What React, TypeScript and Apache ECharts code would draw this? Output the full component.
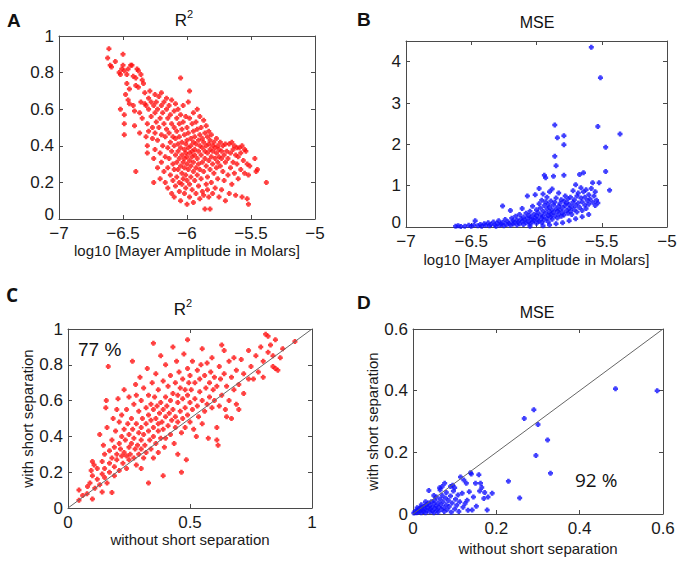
import React, { useEffect, useRef } from "react";
import * as echarts from "echarts";

// Panel A: log10 Mayer amplitude vs R^2
const pointsA: number[][] = [
  [-6.61,0.93],[-6.62,0.88],[-6.60,0.84],[-6.59,0.83],[-6.56,0.86],
  [-6.53,0.80],[-6.52,0.79],[-6.51,0.82],[-6.52,0.60],[-6.50,0.90],[-6.50,0.84],[-6.49,0.81],
  [-6.49,0.57],[-6.49,0.52],[-6.49,0.46],[-6.48,0.68],[-6.47,0.79],[-6.47,0.74],[-6.46,0.82],[-6.46,0.65],[-6.45,0.63],[-6.45,0.71],
  [-6.44,0.84],[-6.43,0.84],[-6.42,0.78],[-6.42,0.62],[-6.41,0.59],[-6.41,0.51],[-6.40,0.26],[-6.40,0.73],[-6.40,0.77],
  [-6.39,0.82],[-6.38,0.81],[-6.38,0.72],[-6.37,0.58],[-6.37,0.47],[-6.36,0.79],[-6.36,0.64],[-6.35,0.76],[-6.35,0.55],
  [-6.34,0.74],[-6.33,0.63],[-6.33,0.69],[-6.32,0.62],[-6.32,0.45],[-6.31,0.52],[-6.31,0.40],[-6.30,0.66],[-6.30,0.60],[-6.30,0.48],[-6.31,0.36],
  [-6.29,0.70],[-6.28,0.64],[-6.28,0.56],[-6.27,0.50],[-6.27,0.44],[-6.26,0.62],[-6.26,0.33],[-6.26,0.20],[-6.25,0.68],[-6.25,0.58],[-6.25,0.47],[-6.25,0.38],
  [-6.24,0.64],[-6.24,0.53],[-6.23,0.60],[-6.23,0.43],[-6.23,0.28],[-6.22,0.67],[-6.22,0.50],[-6.21,0.55],[-6.21,0.36],[-6.21,0.22],[-6.20,0.62],[-6.20,0.46],[-6.20,0.31],[-6.20,0.69],
  [-6.19,0.58],[-6.19,0.40],[-6.18,0.52],[-6.18,0.26],[-6.18,0.64],[-6.17,0.45],[-6.17,0.34],[-6.17,0.20],[-6.16,0.60],[-6.16,0.49],[-6.16,0.66],[-6.15,0.55],[-6.15,0.39],[-6.15,0.28],[-6.15,0.17],
  [-6.14,0.62],[-6.14,0.47],[-6.14,0.33],[-6.13,0.57],[-6.13,0.42],[-6.13,0.24],[-6.12,0.52],[-6.12,0.37],[-6.12,0.14],[-6.12,0.65],[-6.11,0.45],[-6.11,0.30],[-6.11,0.21],[-6.10,0.59],[-6.10,0.50],[-6.10,0.40],[-6.10,0.27],[-6.10,0.12],
  [-6.09,0.63],[-6.09,0.44],[-6.09,0.35],[-6.09,0.18],[-6.08,0.55],[-6.08,0.48],[-6.08,0.31],[-6.08,0.23],[-6.07,0.60],[-6.07,0.41],[-6.07,0.37],[-6.07,0.27],[-6.06,0.52],[-6.06,0.45],[-6.06,0.33],[-6.06,0.20],[-6.06,0.15],[-6.05,0.77],[-6.05,0.57],[-6.05,0.39],[-6.05,0.29],[-6.05,0.10],
  [-6.04,0.49],[-6.04,0.42],[-6.04,0.35],[-6.04,0.25],[-6.04,0.19],[-6.03,0.62],[-6.03,0.53],[-6.03,0.31],[-6.03,0.22],[-6.02,0.46],[-6.02,0.38],[-6.02,0.33],[-6.02,0.28],[-6.02,0.14],[-6.01,0.56],[-6.01,0.41],[-6.01,0.36],[-6.01,0.24],[-6.01,0.17],[-6.00,0.50],[-6.00,0.43],[-6.00,0.34],[-6.00,0.30],[-6.00,0.21],[-6.00,0.08],
  [-5.99,0.64],[-5.99,0.47],[-5.99,0.39],[-5.99,0.27],[-5.98,0.70],[-5.98,0.55],[-5.98,0.36],[-5.98,0.32],[-5.98,0.19],[-5.98,0.12],[-5.97,0.44],[-5.97,0.40],[-5.97,0.29],[-5.97,0.23],[-5.96,0.52],[-5.96,0.37],[-5.96,0.34],[-5.96,0.16],[-5.95,0.58],[-5.95,0.48],[-5.95,0.42],[-5.95,0.31],[-5.95,0.26],[-5.95,0.09],
  [-5.94,0.45],[-5.94,0.38],[-5.94,0.35],[-5.94,0.21],[-5.93,0.53],[-5.93,0.41],[-5.93,0.28],[-5.93,0.14],[-5.92,0.60],[-5.92,0.49],[-5.92,0.33],[-5.92,0.24],[-5.91,0.43],[-5.91,0.37],[-5.91,0.30],[-5.91,0.18],[-5.90,0.56],[-5.90,0.46],[-5.90,0.40],[-5.90,0.27],[-5.90,0.11],
  [-5.89,0.50],[-5.89,0.35],[-5.89,0.22],[-5.88,0.44],[-5.88,0.39],[-5.88,0.31],[-5.88,0.15],[-5.87,0.54],[-5.87,0.42],[-5.87,0.26],[-5.87,0.13],[-5.86,0.47],[-5.86,0.37],[-5.86,0.33],[-5.86,0.055],[-5.85,0.51],[-5.85,0.40],[-5.85,0.29],[-5.85,0.19],
  [-5.84,0.45],[-5.84,0.36],[-5.84,0.23],[-5.84,0.16],[-5.83,0.48],[-5.83,0.41],[-5.83,0.32],[-5.83,0.12],[-5.82,0.43],[-5.82,0.38],[-5.82,0.27],[-5.82,0.055],[-5.81,0.46],[-5.81,0.34],[-5.81,0.20],[-5.80,0.40],[-5.80,0.37],[-5.80,0.30],[-5.80,0.14],
  [-5.79,0.42],[-5.79,0.25],[-5.78,0.39],[-5.78,0.33],[-5.78,0.17],[-5.77,0.44],[-5.77,0.36],[-5.77,0.28],[-5.76,0.40],[-5.76,0.31],[-5.76,0.22],[-5.75,0.38],[-5.75,0.34],[-5.75,0.12],
  [-5.74,0.42],[-5.74,0.29],[-5.73,0.37],[-5.73,0.33],[-5.73,0.16],[-5.72,0.40],[-5.72,0.26],[-5.71,0.35],[-5.71,0.21],[-5.70,0.41],[-5.70,0.31],[-5.70,0.10],
  [-5.69,0.37],[-5.68,0.33],[-5.68,0.24],[-5.67,0.41],[-5.67,0.14],[-5.66,0.36],[-5.66,0.28],[-5.65,0.42],[-5.65,0.19],[-5.64,0.38],[-5.64,0.31],[-5.63,0.40],[-5.63,0.25],[-5.62,0.35],[-5.62,0.13],[-5.61,0.39],[-5.61,0.30],[-5.60,0.22],[-5.60,0.34],
  [-5.59,0.39],[-5.58,0.36],[-5.58,0.27],[-5.57,0.12],[-5.57,0.40],[-5.56,0.32],[-5.55,0.38],[-5.55,0.25],[-5.54,0.37],[-5.53,0.30],[-5.53,0.11],[-5.52,0.08],[-5.52,0.24],[-5.51,0.29],
  [-5.47,0.33],[-5.46,0.26],[-5.45,0.27],[-5.38,0.20]
];

// Panel B: log10 Mayer amplitude vs MSE
const pointsB: number[][] = [
  [-6.62,0.02],[-6.60,0.03],[-6.58,0.01],[-6.55,0.02],[-6.52,0.04],[-6.50,0.02],[-6.48,0.05],[-6.47,0.15],[-6.45,0.03],[-6.43,0.06],[-6.42,0.02],[-6.40,0.08],[-6.39,0.04],[-6.37,0.10],[-6.36,0.03],[-6.35,0.06],[-6.33,0.12],[-6.32,0.05],[-6.31,0.02],[-6.30,0.09],
  [-6.29,0.15],[-6.28,0.04],[-6.27,0.07],[-6.26,0.51],[-6.26,0.11],[-6.25,0.03],[-6.24,0.18],[-6.23,0.06],[-6.22,0.13],[-6.21,0.09],[-6.20,0.40],[-6.20,0.04],[-6.19,0.21],[-6.18,0.15],[-6.18,0.07],[-6.17,0.11],[-6.16,0.26],[-6.15,0.05],[-6.15,0.17],[-6.14,0.12],
  [-6.13,0.30],[-6.13,0.08],[-6.12,0.20],[-6.11,0.14],[-6.11,0.45],[-6.10,0.06],[-6.10,0.24],[-6.09,0.17],[-6.08,0.33],[-6.08,0.10],[-6.07,0.21],[-6.07,0.75],[-6.06,0.13],[-6.06,0.28],[-6.05,0.38],[-6.05,0.07],[-6.05,0.02],[-6.04,0.19],[-6.04,0.25],[-6.03,0.50],
  [-6.03,0.12],[-6.02,0.31],[-6.02,0.16],[-6.01,0.78],[-6.01,0.22],[-6.00,0.42],[-6.00,0.09],[-6.00,0.27],[-5.99,0.35],[-5.99,0.18],[-5.98,0.93],[-5.98,0.56],[-5.98,0.14],[-5.97,0.29],[-5.97,0.46],[-5.96,0.22],[-5.96,0.65],[-5.96,0.11],[-5.95,0.38],[-5.95,0.80],
  [-5.95,0.26],[-5.95,0.03],[-5.94,1.25],[-5.94,0.52],[-5.94,0.17],[-5.93,1.19],[-5.93,0.33],[-5.93,0.61],[-5.92,0.44],[-5.92,0.21],[-5.92,0.72],[-5.91,0.28],[-5.91,0.55],[-5.91,0.13],[-5.90,0.37],[-5.90,0.85],[-5.90,0.48],[-5.90,0.05],[-5.89,0.24],[-5.89,0.63],
  [-5.89,0.31],[-5.88,0.41],[-5.88,0.19],[-5.88,0.92],[-5.87,0.53],[-5.87,1.23],[-5.87,0.35],[-5.86,2.47],[-5.86,1.71],[-5.86,0.27],[-5.86,0.60],[-5.85,1.48],[-5.85,0.44],[-5.85,0.70],[-5.85,0.08],[-5.84,2.16],[-5.84,0.38],[-5.84,0.22],[-5.83,0.50],[-5.83,0.82],
  [-5.83,0.31],[-5.82,0.57],[-5.82,0.41],[-5.81,0.26],[-5.81,0.66],[-5.80,0.47],[-5.80,0.35],[-5.80,0.10],[-5.79,2.21],[-5.79,1.99],[-5.79,1.25],[-5.79,0.62],[-5.79,0.29],[-5.78,0.52],[-5.78,0.75],[-5.77,0.40],[-5.77,0.58],[-5.76,0.33],[-5.76,0.68],[-5.75,0.45],
  [-5.75,0.55],[-5.75,0.15],[-5.74,0.38],[-5.74,0.72],[-5.73,0.49],[-5.73,0.30],[-5.72,0.60],[-5.72,0.88],[-5.71,0.42],[-5.71,0.66],[-5.70,1.02],[-5.70,0.52],[-5.70,0.20],[-5.69,0.75],[-5.69,0.36],[-5.68,0.58],[-5.68,0.82],[-5.67,1.27],[-5.67,0.47],[-5.66,0.70],
  [-5.66,0.95],[-5.65,0.40],[-5.65,0.61],[-5.65,0.25],[-5.64,1.31],[-5.64,0.85],[-5.63,0.53],[-5.63,0.72],[-5.62,0.45],[-5.62,0.90],[-5.61,0.64],[-5.60,0.78],[-5.60,0.55],[-5.60,0.30],[-5.59,0.68],[-5.58,4.35],[-5.58,0.93],[-5.57,1.07],[-5.57,0.60],[-5.56,0.75],
  [-5.55,0.52],[-5.55,0.85],[-5.54,0.65],[-5.53,2.43],[-5.53,0.58],[-5.52,1.07],[-5.51,3.61],[-5.47,1.93],[-5.47,1.34],[-5.44,0.89],[-5.36,2.25]
];

// Panel C: R^2 without vs with short separation
const pointsC: number[][] = [
  [0.045,0.043],[0.045,0.10],[0.06,0.07],[0.078,0.08],[0.08,0.12],[0.09,0.14],[0.10,0.05],[0.10,0.26],[0.107,0.24],[0.10,0.18],[0.095,0.21],
  [0.11,0.11],[0.12,0.16],[0.12,0.22],[0.13,0.41],[0.13,0.13],[0.14,0.19],[0.14,0.26],[0.14,0.09],[0.15,0.30],[0.15,0.17],[0.15,0.22],[0.145,0.35],
  [0.157,0.60],[0.155,0.56],[0.16,0.45],[0.16,0.14],[0.165,0.79],[0.17,0.25],[0.17,0.32],[0.17,0.20],[0.18,0.086],[0.18,0.38],[0.18,0.28],[0.185,0.50],[0.19,0.18],[0.19,0.23],[0.19,0.34],[0.195,0.43],[0.20,0.30],[0.20,0.27],[0.20,0.55],
  [0.205,0.61],[0.21,0.36],[0.21,0.21],[0.21,0.48],[0.215,0.33],[0.22,0.40],[0.22,0.29],[0.22,0.52],[0.225,0.25],[0.23,0.44],[0.23,0.31],[0.23,0.66],[0.235,0.38],[0.24,0.29],[0.24,0.55],[0.24,0.22],[0.245,0.47],[0.25,0.34],[0.25,0.41],[0.25,0.62],[0.25,0.27],
  [0.255,0.30],[0.26,0.50],[0.26,0.36],[0.264,0.82],[0.265,0.44],[0.27,0.28],[0.27,0.58],[0.27,0.39],[0.275,0.33],[0.277,0.69],[0.28,0.47],[0.28,0.24],[0.28,0.63],[0.285,0.35],[0.29,0.42],[0.29,0.30],[0.29,0.54],[0.295,0.73],[0.30,0.45],[0.30,0.38],[0.30,0.33],[0.30,0.60],[0.30,0.22],
  [0.305,0.50],[0.31,0.28],[0.31,0.67],[0.31,0.41],[0.315,0.35],[0.32,0.56],[0.32,0.47],[0.32,0.31],[0.325,0.78],[0.33,0.14],[0.33,0.43],[0.33,0.52],[0.33,0.63],[0.335,0.38],[0.34,0.49],[0.34,0.58],[0.34,0.33],[0.345,0.70],[0.35,0.92],[0.35,0.45],[0.35,0.55],[0.35,0.28],[0.35,0.40],
  [0.355,0.62],[0.36,0.50],[0.36,0.36],[0.36,0.75],[0.365,0.57],[0.37,0.47],[0.37,0.43],[0.37,0.66],[0.37,0.31],[0.375,0.53],[0.38,0.59],[0.38,0.39],[0.38,0.85],[0.385,0.48],[0.39,0.18],[0.39,0.55],[0.39,0.71],[0.39,0.44],[0.395,0.34],[0.40,0.62],[0.40,0.51],[0.40,0.80],[0.40,0.39],
  [0.405,0.57],[0.41,0.46],[0.41,0.68],[0.415,0.53],[0.42,0.74],[0.42,0.41],[0.42,0.60],[0.425,0.49],[0.43,0.90],[0.43,0.64],[0.43,0.55],[0.435,0.36],[0.44,0.70],[0.44,0.45],[0.44,0.51],[0.445,0.82],[0.45,0.59],[0.45,0.63],[0.45,0.48],[0.45,0.30],
  [0.455,0.76],[0.46,0.67],[0.46,0.54],[0.465,0.20],[0.465,0.42],[0.47,0.72],[0.47,0.61],[0.47,0.50],[0.475,0.86],[0.48,0.66],[0.48,0.56],[0.48,0.45],[0.485,0.27],[0.49,0.94],[0.49,0.78],[0.49,0.63],[0.49,0.52],[0.495,0.70],[0.50,0.59],[0.50,0.48],[0.50,0.74],
  [0.505,0.66],[0.51,0.55],[0.51,0.82],[0.515,0.44],[0.52,0.70],[0.52,0.61],[0.526,0.40],[0.53,0.77],[0.53,0.57],[0.535,0.51],[0.54,0.65],[0.54,0.72],[0.545,0.80],[0.55,0.89],[0.55,0.60],[0.55,0.47],
  [0.56,0.74],[0.56,0.54],[0.565,0.67],[0.57,0.81],[0.57,0.58],[0.575,0.39],[0.58,0.70],[0.58,0.62],[0.585,0.76],[0.59,0.84],[0.59,0.56],[0.595,0.66],[0.60,0.73],[0.60,0.60],
  [0.61,0.45],[0.61,0.38],[0.615,0.35],[0.61,0.68],[0.62,0.79],[0.62,0.57],[0.625,0.72],[0.63,0.91],[0.63,0.63],[0.64,0.88],[0.64,0.75],[0.645,0.55],[0.65,0.51],[0.65,0.68],
  [0.66,0.82],[0.66,0.60],[0.67,0.73],[0.67,0.50],[0.68,0.66],[0.68,0.84],[0.69,0.58],[0.69,0.77],[0.70,0.69],[0.70,0.55],
  [0.71,0.83],[0.72,0.64],[0.72,0.75],[0.74,0.88],[0.74,0.72],[0.75,0.79],[0.76,0.72],[0.77,0.85],[0.78,0.76],[0.79,0.90],[0.80,0.73],[0.80,0.82],
  [0.81,0.97],[0.82,0.96],[0.82,0.87],[0.83,0.91],[0.84,0.79],[0.84,0.85],[0.85,0.78],[0.85,0.94],[0.86,0.77],[0.87,0.84],[0.88,0.89],[0.93,0.93]
];

// Panel D: MSE without vs with short separation
const pointsD: number[][] = [
  [0.002,0.003],[0.005,0.008],[0.008,0.004],[0.01,0.012],[0.01,0.02],[0.012,0.006],[0.015,0.018],[0.017,0.010],[0.02,0.004],[0.02,0.022],[0.02,0.03],[0.022,0.014],[0.025,0.008],[0.027,0.025],[0.028,0.017],[0.03,0.004],[0.03,0.04],[0.032,0.030],[0.033,0.012],[0.035,0.020],
  [0.037,0.036],[0.038,0.076],[0.04,0.007],[0.04,0.027],[0.042,0.016],[0.044,0.040],[0.045,0.022],[0.047,0.010],[0.05,0.033],[0.05,0.004],[0.05,0.06],[0.052,0.045],[0.053,0.018],[0.055,0.026],[0.056,0.055],[0.058,0.012],[0.06,0.036],[0.06,0.006],[0.062,0.022],[0.064,0.085],
  [0.065,0.078],[0.065,0.048],[0.067,0.030],[0.068,0.015],[0.07,0.089],[0.07,0.060],[0.072,0.040],[0.074,0.020],[0.075,0.008],[0.076,0.100],[0.078,0.052],[0.08,0.030],[0.08,0.070],[0.082,0.014],[0.085,0.044],[0.087,0.024],[0.09,0.089],[0.09,0.058],[0.092,0.006],[0.094,0.036],
  [0.095,0.093],[0.097,0.075],[0.1,0.016],[0.1,0.085],[0.102,0.048],[0.105,0.028],[0.108,0.062],[0.11,0.008],[0.112,0.040],[0.114,0.120],[0.118,0.067],[0.12,0.022],[0.122,0.110],[0.125,0.034],[0.128,0.100],[0.13,0.045],[0.132,0.012],[0.135,0.072],[0.138,0.134],[0.14,0.130],
  [0.142,0.013],[0.145,0.055],[0.15,0.100],[0.152,0.025],[0.158,0.127],[0.16,0.075],[0.162,0.100],[0.165,0.086],[0.17,0.050],[0.172,0.070],[0.178,0.013],[0.18,0.055],[0.19,0.067],[0.229,0.106],[0.256,0.052],[0.267,0.31],[0.29,0.338],[0.295,0.19],[0.30,0.29],[0.323,0.24],
  [0.33,0.132],[0.486,0.406],[0.586,0.40]
];

const diagC: number[][] = [[0, 0], [1, 1]];
const diagD: number[][] = [[0, 0], [0.6, 0.6]];

const xTicksAB = { min: -7, max: -5, interval: 0.5 };
const yTicksA = { min: 0, max: 1, interval: 0.2 };
const yTicksB = { min: 0, max: 4.5, interval: 1 };
const ticksC = { min: 0, max: 1, interval: 0.5 };
const yTicksC = { min: 0, max: 1, interval: 0.2 };
const ticksD = { min: 0, max: 0.6, interval: 0.2 };

const titleR = "R";
const titleMSE = "MSE";
const xNameAB = "log10 [Mayer Amplitude in Molars]";
const xNameCD = "without short separation";
const yNameCD = "with short separation";

const FONT = "'Liberation Sans', Arial, sans-serif";
const BOX = "#4a4a4a";
const LABEL = "#1a1a1a";

const fmt = (v: number) => String(+v.toFixed(2)).replace("-", "\u2212");
// zero label raised a little so it clears the first x tick label
const fmtRaiseZero = (v: number) => (Math.abs(v) < 1e-9 ? "{z|0}" : fmt(v));

const SYM = "path://M1,0H3V1H4V3H3V4H1V3H0V1H1Z";

function mainX(grid: number, t: any, name: string, gap: number) {
  return {
    type: "value", gridIndex: grid, position: "bottom", ...t,
    name, nameLocation: "middle", nameGap: gap,
    nameTextStyle: { fontFamily: FONT, fontSize: 15, color: LABEL },
    axisLine: { show: true, lineStyle: { color: BOX, width: 1 } },
    axisTick: { show: true, inside: true, length: 4, lineStyle: { color: BOX } },
    axisLabel: { show: true, formatter: fmt, fontFamily: FONT, fontSize: 17, lineHeight: 13, color: LABEL, margin: 8, showMaxLabel: true },
    splitLine: { show: false },
  };
}
function mainY(grid: number, t: any, name: string, gap: number, hideMax = false, raiseZero = false) {
  return {
    type: "value", gridIndex: grid, position: "left", ...t,
    name, nameLocation: "middle", nameGap: gap, nameRotate: 90,
    nameTextStyle: { fontFamily: FONT, fontSize: 15, color: LABEL },
    axisLine: { show: true, lineStyle: { color: BOX, width: 1 } },
    axisTick: { show: true, inside: true, length: 4, lineStyle: { color: BOX } },
    axisLabel: {
      show: true, formatter: raiseZero ? fmtRaiseZero : fmt, fontFamily: FONT, fontSize: 17, lineHeight: 13,
      color: LABEL, margin: 5, showMaxLabel: !hideMax,
      rich: { z: { fontFamily: FONT, fontSize: 17, color: LABEL, padding: [0, 0, 10, 0] } },
    },
    splitLine: { show: false },
  };
}
function mirror(grid: number, t: any, pos: string) {
  return {
    type: "value", gridIndex: grid, position: pos, ...t,
    axisLine: { show: true, onZero: false, lineStyle: { color: BOX, width: 1 } },
    axisTick: { show: true, inside: true, length: 4, lineStyle: { color: BOX } },
    axisLabel: { show: false },
    splitLine: { show: false },
  };
}

function scatter(idx: number, data: number[][], color: string) {
  return {
    type: "scatter", xAxisIndex: idx * 2, yAxisIndex: idx * 2, data,
    symbol: SYM, symbolSize: 5, itemStyle: { color }, z: 2,
  };
}
function diag(idx: number, data: number[][]) {
  return {
    type: "line", xAxisIndex: idx * 2, yAxisIndex: idx * 2, data,
    symbol: "none", lineStyle: { color: "#666", width: 1 }, z: 3, silent: true,
  };
}

function txt(text: string, x: number, y: number, size: number, opts: any = {}) {
  return {
    type: "text", x, y, silent: true,
    style: {
      text, fontFamily: FONT, fontSize: size, fill: "#111",
      textAlign: opts.align || "center", textVerticalAlign: "middle",
      fontWeight: opts.bold ? "bold" : "normal",
      ...(opts.family ? { fontFamily: opts.family } : {}),
    },
  };
}

export default function App() {
  const ref = useRef<HTMLDivElement>(null);
  useEffect(() => {
    if (!ref.current) return;
    const chart = echarts.init(ref.current, undefined, { renderer: "svg" });
    chart.setOption({
      animation: false,
      backgroundColor: "#ffffff",
      grid: [
        { left: 59, top: 36, width: 256, height: 183 },
        { left: 406, top: 41, width: 261, height: 186 },
        { left: 68, top: 329, width: 244, height: 179 },
        { left: 413, top: 329, width: 250, height: 185 },
      ],
      xAxis: [
        mainX(0, xTicksAB, xNameAB, 21), mirror(0, xTicksAB, "top"),
        mainX(1, xTicksAB, xNameAB, 25), mirror(1, xTicksAB, "top"),
        mainX(2, ticksC, xNameCD, 24), mirror(2, ticksC, "top"),
        mainX(3, ticksD, xNameCD, 27), mirror(3, ticksD, "top"),
      ],
      yAxis: [
        mainY(0, yTicksA, "", 30, false, true), mirror(0, yTicksA, "right"),
        mainY(1, yTicksB, "", 30, true, true), mirror(1, yTicksB, "right"),
        mainY(2, yTicksC, yNameCD, 32), mirror(2, yTicksC, "right"),
        mainY(3, ticksD, yNameCD, 33), mirror(3, ticksD, "right"),
      ],
      series: [
        scatter(0, pointsA, "#ff1010"),
        scatter(1, pointsB, "#1010ff"),
        scatter(2, pointsC, "#ff1010"),
        scatter(3, pointsD, "#1010ff"),
        diag(2, diagC),
        diag(3, diagD),
      ],
      graphic: [
        txt("A", 7, 20, 19, { bold: true, align: "left" }),
        txt("B", 357, 19, 19, { bold: true, align: "left" }),
        txt("C", 6, 295, 19, { bold: true, align: "left", family: "'Open Sans', sans-serif" }),
        txt("D", 357, 302, 19, { bold: true, align: "left" }),
        txt(titleR, 181, 20, 17),
        txt("2", 190, 14, 11),
        txt(titleMSE, 537, 22, 16),
        txt(titleR, 180, 309, 17),
        txt("2", 189, 303, 11),
        txt(titleMSE, 537, 312, 16),
        txt("77 %", 78, 349, 19, { align: "left" }),
        txt("92 %", 575, 480, 19, { align: "left", family: "'Open Sans', sans-serif" }),
      ],
    });
    return () => chart.dispose();
  }, []);
  return (
    <div
      ref={ref}
      style={{ position: "absolute", left: 0, top: 0, width: 694, height: 563, background: "#fff" }}
    />
  );
}
